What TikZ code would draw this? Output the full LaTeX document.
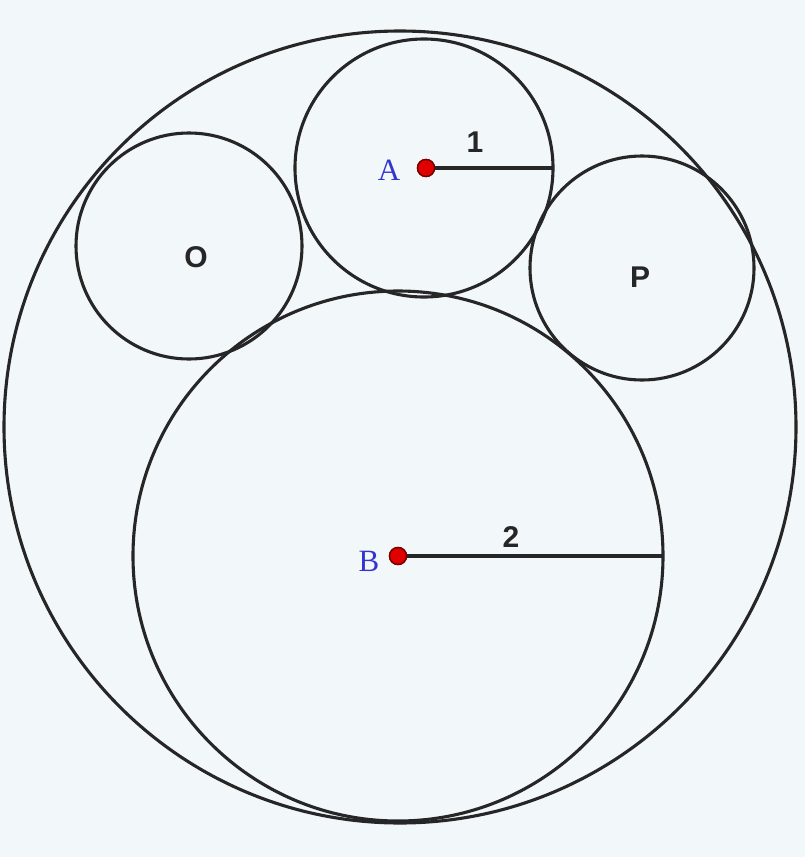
\documentclass[tikz,border=0pt]{standalone}
\usepackage{fontspec}
\setmainfont{Liberation Serif}
\newfontfamily\arialfont{Liberation Sans}
\definecolor{bgc}{HTML}{F2F7F9}
\definecolor{linec}{HTML}{262626}
\definecolor{labblue}{HTML}{3434D0}
\definecolor{dotred}{HTML}{E00000}
\definecolor{dotedge}{HTML}{7A0000}
\tikzset{
  circ/.style={draw=linec, line width=3.1pt},
  seg/.style={draw=linec, line width=3.1pt},
  numlab/.style={font=\arialfont\bfseries\fontsize{30}{30}\selectfont, text=linec, inner sep=0pt},
  ptlab/.style={font=\fontsize{31}{31}\selectfont, text=labblue, inner sep=0pt},
  dot/.style={circle, fill=dotred, draw=dotedge, line width=1.4pt, minimum size=17pt, inner sep=0pt}
}
\begin{document}
\begin{tikzpicture}[x=1pt,y=-1pt]
\fill[bgc] (0,0) rectangle (805,857);
\useasboundingbox (0,0) rectangle (805,857);
% circles
\draw[circ] (400,427) circle (396);
\draw[circ] (424,168) circle (129);
\draw[circ] (398,556) circle (265);
\draw[circ] (189,246) circle (113);
\draw[circ] (642,268) circle (112);
% centres and radii
\coordinate (Aend) at (553,168);
\coordinate (Bend) at (663,556);
\node[dot] (A) at (426,168) {};
\node[dot] (B) at (398,556) {};
\draw[seg] (A.center) -- (Aend);
\draw[seg] (B.center) -- (Bend);
\node[dot] at (426,168) {};
\node[dot] at (398,556) {};
% labels
\node[ptlab] (la) at (389,170) {A};
\node[ptlab] (lb) at (369,561) {B};
\node[numlab] (l1) at (475,142) {1};
\node[numlab] (l2) at (511,537) {2};
\node[numlab] (lo) at (196,257) {O};
\node[numlab] (lp) at (640,277) {P};
\end{tikzpicture}
\end{document}
